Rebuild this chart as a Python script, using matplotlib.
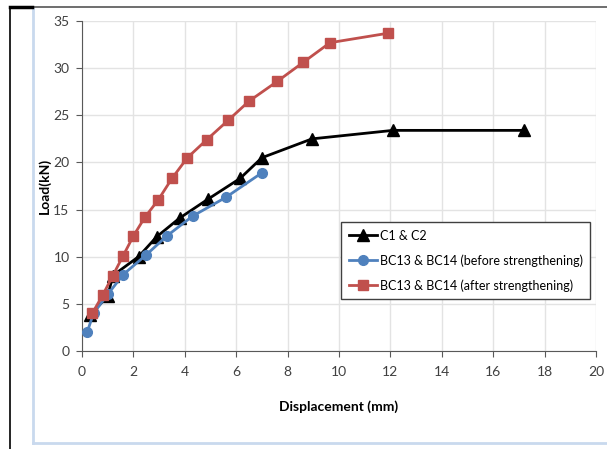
import matplotlib
matplotlib.use("Agg")
import matplotlib.pyplot as plt
from matplotlib.lines import Line2D

c_x = [0.3, 1.0, 1.2, 2.2, 2.9, 3.8, 4.9, 6.15, 7.0, 8.95, 12.1, 17.2]
c_y = [3.8, 5.8, 8.0, 10.0, 12.1, 14.1, 16.1, 18.3, 20.5, 22.5, 23.4, 23.4]

b_x = [0.2, 0.45, 1.0, 1.6, 2.5, 3.3, 4.3, 5.6, 7.0]
b_y = [2.0, 4.0, 6.0, 8.1, 10.2, 12.2, 14.3, 16.3, 18.9]

r_x = [0.4, 0.8, 1.2, 1.6, 2.0, 2.45, 2.96, 3.5, 4.1, 4.85, 5.7, 6.5, 7.6, 8.6, 9.65, 11.9]
r_y = [4.0, 5.9, 8.0, 10.1, 12.2, 14.2, 16.0, 18.3, 20.5, 22.4, 24.5, 26.5, 28.6, 30.6, 32.7, 33.7]

labels = ["C1 & C2", "BC13 & BC14 (before strengthening)", "BC13 & BC14 (after strengthening)"]
x_ticks = list(range(0, 21, 2))
y_ticks = list(range(0, 36, 5))

plt.rcParams['font.family'] = ['Lato', 'DejaVu Sans']

fig = plt.figure(figsize=(6.07, 4.49), dpi=100)
ax = fig.add_axes([82/607, 1-351/449, (596-82)/607, (351-21)/449])

ax.plot(c_x, c_y, color='black', lw=2, marker='^', ms=9, label=labels[0], zorder=3)
ax.plot(b_x, b_y, color='#4F81BD', lw=2, marker='o', ms=7, label=labels[1], zorder=4)
ax.plot(r_x, r_y, color='#C0504D', lw=2, marker='s', ms=7, label=labels[2], zorder=5)

ax.set_xlim(0, 20)
ax.set_ylim(0, 35)
ax.set_xticks(x_ticks)
ax.set_yticks(y_ticks)
ax.grid(True, color='#e3e3e3', lw=1)
ax.set_axisbelow(True)
for s in ['top', 'right']:
    ax.spines[s].set_visible(False)
for s in ['left', 'bottom']:
    ax.spines[s].set_color('#595959')
ax.tick_params(axis='both', colors='#595959', labelcolor='#404040', labelsize=10, length=4, direction='out')
ax.tick_params(axis='x', pad=7)
ax.tick_params(axis='y', pad=5)

ax.set_xlabel("Displacement (mm)", fontsize=10, fontweight='bold', labelpad=16)
ax.set_ylabel("Load(kN)", fontsize=10, fontweight='bold')
ax.yaxis.set_label_coords((51-82)/514, 0.5)

leg = ax.legend(loc='upper left', bbox_to_anchor=((341-82)/514, (351-222)/330), fontsize=9,
                frameon=True, fancybox=False, edgecolor='#404040', framealpha=1,
                handlelength=2.3, handletextpad=0.2, borderpad=0.6, labelspacing=1.0,
                borderaxespad=0)
leg.get_frame().set_linewidth(1)

W, H = 607, 449
def fl(x0, y0, x1, y1, color, lw):
    fig.add_artist(Line2D([x0/W, x1/W], [1-y0/H, 1-y1/H], color=color, lw=lw, transform=fig.transFigure))

fl(33, 8, 33, 443, '#c9d9ee', 2)
fl(33, 443, 607, 443, '#c9d9ee', 2)
fl(10, 7, 607, 7, '#555555', 1.2)
fl(10, 7, 32, 7, 'black', 2.5)
fl(10, 7, 10, 449, 'black', 1.2)

fig.savefig("out.png", dpi=100)
